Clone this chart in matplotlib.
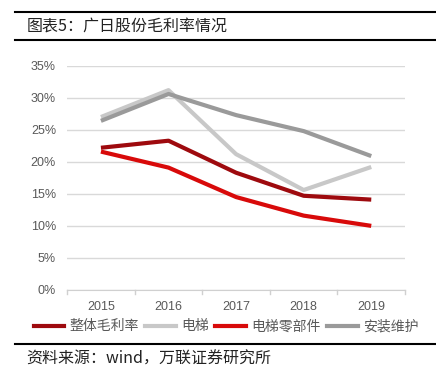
import matplotlib.pyplot as plt
from matplotlib.lines import Line2D
from matplotlib.ticker import FuncFormatter

plt.rcParams['font.family'] = ['Noto Sans CJK SC', 'DejaVu Sans']

years = ['2015', '2016', '2017', '2018', '2019']
overall = [22.2, 23.3, 18.3, 14.7, 14.1]
elevator = [27.0, 31.2, 21.2, 15.6, 19.2]
parts = [21.6, 19.1, 14.5, 11.6, 10.0]
install = [26.4, 30.6, 27.3, 24.8, 20.9]

series = [
    ('整体毛利率', overall, '#9e0a0e'),
    ('电梯', elevator, '#c8c8c8'),
    ('电梯零部件', parts, '#d80a0a'),
    ('安装维护', install, '#9a9a9a'),
]


def main():
    fig = plt.figure(figsize=(4.36, 3.76), dpi=100)
    ax = fig.add_axes([0.154, 0.229, 0.775, 0.596])

    x = range(len(years))
    for name, vals, color in series:
        ax.plot(x, vals, color=color, lw=3, label=name, solid_capstyle='butt')

    ax.set_ylim(0, 35)
    ax.set_yticks(range(0, 36, 5))
    ax.yaxis.set_major_formatter(FuncFormatter(lambda v, p: f'{v:.0f}%'))
    ax.set_xlim(-0.5, len(years) - 0.5)
    ax.set_xticks(list(x))
    ax.set_xticklabels(years)
    ax.grid(axis='y', color='#d9d9d9', lw=1)
    ax.set_axisbelow(True)
    for s in ['top', 'right', 'left']:
        ax.spines[s].set_visible(False)
    ax.spines['bottom'].set_color('#d0d0d0')
    ax.tick_params(axis='y', length=0, colors='#595959', labelsize=9, pad=8)
    ax.tick_params(axis='x', length=0, colors='#595959', labelsize=9, pad=8)
    for lab in ax.get_xticklabels() + ax.get_yticklabels():
        lab.set_family('Liberation Sans')
    for b in [-0.5, 0.5, 1.5, 2.5, 3.5, 4.5]:
        ax.plot([b, b], [0, -0.6], color='#d0d0d0', lw=1, clip_on=False)

    handles = [Line2D([0], [0], color=c, lw=3) for _, _, c in series]
    fig.legend(handles, [n for n, _, _ in series], loc='center',
               bbox_to_anchor=(0.518, 0.132), ncol=4, frameon=False,
               fontsize=10, handlelength=2.2, handletextpad=0.35,
               columnspacing=0.5, labelcolor='#595959')

    # title box
    fig.add_artist(Line2D([0.034, 1.0], [0.968, 0.968], color='black', lw=1.5))
    fig.add_artist(Line2D([0.034, 1.0], [0.893, 0.893], color='black', lw=1.5))
    fig.text(0.06, 0.931, '图表5：广日股份毛利率情况', fontsize=11.5,
             va='center', ha='left', color='#222222')

    fig.add_artist(Line2D([0.034, 1.0], [0.085, 0.085], color='black', lw=1.5))
    fig.text(0.06, 0.045, '资料来源：wind，万联证券研究所', fontsize=11.5,
             va='center', ha='left', style='italic', color='#222222')

    fig.savefig('out.png', dpi=100)


if __name__ == '__main__':
    main()
